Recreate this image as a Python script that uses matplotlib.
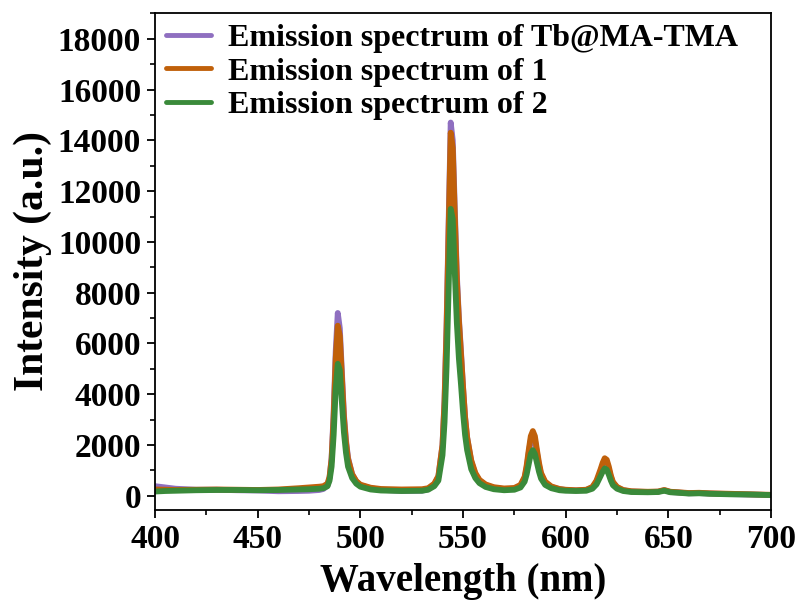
import matplotlib
matplotlib.use("Agg")
import matplotlib.pyplot as plt
from matplotlib.ticker import MultipleLocator

wavelength = [
    400, 405, 410, 420, 430, 440, 450, 460, 470, 475, 480, 482,
    484, 485, 486, 487, 488, 489, 490, 491, 492, 493, 494, 496, 498, 500,
    505, 510, 520, 530, 533, 536, 538,
    540, 541, 542, 543, 544, 545, 546, 547, 548, 549, 550, 551, 552, 554, 556, 558, 561, 565,
    570, 575, 578, 580, 581, 582, 583, 584, 585, 586, 587, 588, 590, 593, 597,
    600, 605, 610, 613, 615, 617, 618, 619, 620, 621, 622, 623, 625, 628, 632,
    640, 645, 648, 651, 655, 660, 665, 670, 680, 690, 700,
]

tb_ma_tma = [
    380, 330, 280, 240, 240, 220, 210, 180, 190, 200, 230, 270,
    400, 700, 1500, 3300, 5700, 7200, 6600, 4900, 3200, 2200, 1500, 850, 570, 420,
    300, 240, 190, 200, 260, 450, 750,
    2000, 3800, 6800, 10800, 14700, 14000, 11300, 8700, 7000, 5700, 4300, 3100, 2300, 1350, 850, 600, 420, 320,
    260, 280, 400, 700, 1100, 1700, 2200, 2400, 2200, 1700, 1200, 850, 520, 350, 260,
    230, 210, 230, 330, 550, 950, 1200, 1380, 1300, 1050, 750, 520, 330, 220, 170,
    150, 160, 220, 150, 130, 100, 110, 90, 70, 50, 30,
]

sample_1 = [
    250, 240, 230, 240, 250, 240, 230, 250, 300, 330, 360, 380,
    480, 750, 1450, 3100, 5400, 6700, 6300, 4700, 3100, 2100, 1450, 850, 580, 440,
    320, 270, 250, 260, 300, 480, 780,
    2000, 3700, 6600, 10500, 14300, 13700, 11000, 8500, 6900, 5600, 4300, 3100, 2300, 1400, 900, 630, 450, 340,
    290, 310, 430, 750, 1200, 1800, 2350, 2550, 2350, 1800, 1300, 900, 560, 370, 270,
    240, 220, 240, 350, 600, 1050, 1300, 1480, 1420, 1150, 800, 550, 350, 230, 180,
    160, 170, 230, 160, 140, 110, 120, 100, 80, 60, 40,
]

sample_2 = [
    170, 190, 200, 220, 230, 230, 220, 230, 250, 260, 280, 300,
    380, 600, 1150, 2400, 4200, 5200, 4950, 3700, 2500, 1700, 1150, 700, 480, 360,
    250, 210, 190, 200, 240, 380, 600,
    1600, 2900, 5100, 8200, 11300, 10900, 8800, 6800, 5400, 4400, 3300, 2400, 1800, 1050, 700, 500, 350, 260,
    220, 240, 330, 560, 850, 1250, 1650, 1800, 1650, 1300, 950, 680, 430, 300, 220,
    200, 190, 200, 280, 450, 780, 950, 1080, 1030, 830, 600, 420, 280, 190, 150,
    140, 150, 200, 140, 120, 90, 100, 80, 60, 50, 30,
]

labels = ["Emission spectrum of Tb@MA-TMA", "Emission spectrum of 1", "Emission spectrum of 2"]
colors = ["#8f6fc0", "#c0600a", "#3a8a3a"]

plt.rcParams['font.family'] = ['Liberation Serif', 'DejaVu Serif']
plt.rcParams['font.weight'] = 'bold'

fig = plt.figure(figsize=(7.99, 6.12), dpi=100)
ax = fig.add_axes([0.194, 0.167, 0.771, 0.812])

for ys, c, lab in zip([tb_ma_tma, sample_1, sample_2], colors, labels):
    ax.plot(wavelength, ys, color=c, lw=4.2, label=lab,
            solid_joinstyle='round', solid_capstyle='round')

ax.set_xlim(400, 700)
ax.set_ylim(-550, 19020)
ax.xaxis.set_major_locator(MultipleLocator(50))
ax.xaxis.set_minor_locator(MultipleLocator(25))
ax.yaxis.set_major_locator(MultipleLocator(2000))
ax.yaxis.set_minor_locator(MultipleLocator(1000))
ax.tick_params(which='major', direction='out', length=6, width=1.3, labelsize=24, pad=4)
ax.tick_params(which='minor', direction='out', length=3.5, width=1.2)
ax.tick_params(top=False, right=False)
for s in ax.spines.values():
    s.set_linewidth(1.3)
for lbl in ax.get_xticklabels() + ax.get_yticklabels():
    lbl.set_fontweight('bold')

ax.set_xlabel("Wavelength (nm)", fontsize=28, fontweight='bold', labelpad=6)
ax.set_ylabel("Intensity (a.u.)", fontsize=30, fontweight='bold', labelpad=4)

leg = ax.legend(loc='upper left', frameon=False, fontsize=23, handlelength=1.4,
                handletextpad=0.55, labelspacing=0.12, borderaxespad=0.25,
                borderpad=0.1)
for t in leg.get_texts():
    t.set_fontweight('bold')
for h in leg.get_lines():
    h.set_linewidth(3.5)

fig.savefig("out.png", dpi=100)
